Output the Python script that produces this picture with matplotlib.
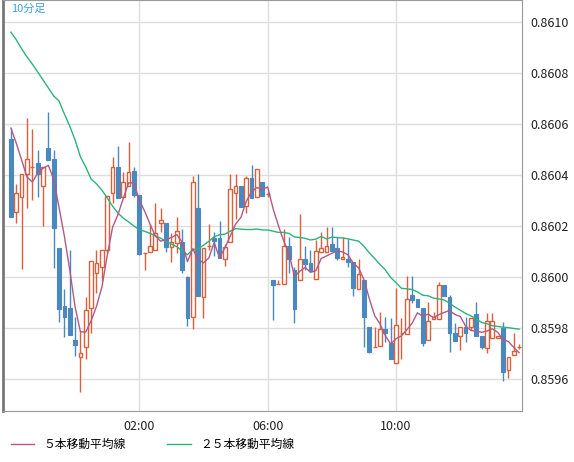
import matplotlib
matplotlib.use("Agg")
import matplotlib.pyplot as plt
from matplotlib.lines import Line2D
import numpy as np
import pandas as pd

plt.rcParams['font.family'] = ['Noto Sans CJK JP', 'DejaVu Sans']

opens = [0.860541,0.860255,0.860314,0.860404,0.860431,0.860447,0.860357,0.860506,0.860463,0.860114,
         0.859886,0.859878,0.859753,0.859686,0.859725,0.859878,0.860016,0.860039,0.860106,0.860329,
         0.860431,0.860314,0.860357,0.860416,0.860322,0.860094,0.860098,0.860106,0.860212,0.860212,
         0.860118,0.860133,0.860137,0.860000,0.859843,0.860271,0.859922,0.860122,0.860153,0.860153,
         0.860071,0.860137,0.860329,0.860357,0.860278,0.860388,0.860314,0.860373,0.860325,0.859988,
         0.859973,0.859973,0.860122,0.860027,0.859988,0.860071,0.860055,0.859992,0.860098,0.860098,
         0.860129,0.860114,0.860071,0.860071,0.860059,0.859953,0.859988,0.859804,0.859725,0.859729,
         0.859796,0.859741,0.859663,0.859780,0.859776,0.859929,0.859914,0.859878,0.859753,0.859835,
         0.859835,0.859969,0.859922,0.859780,0.859769,0.859804,0.859804,0.859855,0.859769,0.859722,
         0.859761,0.859761,0.859800,0.859635,0.859694,0.859725]
highs = [0.860584,0.860365,0.860404,0.860624,0.860580,0.860498,0.860431,0.860647,0.860498,0.860114,
         0.859953,0.860106,0.859843,0.859788,0.859922,0.860063,0.860106,0.860106,0.860318,0.860471,
         0.860514,0.860412,0.860529,0.860431,0.860322,0.860094,0.860208,0.860290,0.860271,0.860212,
         0.860173,0.860235,0.860188,0.860004,0.860396,0.860404,0.860114,0.860208,0.860176,0.860220,
         0.860129,0.860404,0.860404,0.860357,0.860396,0.860439,0.860424,0.860373,0.860333,0.859988,
         0.859988,0.860188,0.860157,0.860039,0.860247,0.860122,0.860106,0.860145,0.860176,0.860196,
         0.860196,0.860157,0.860157,0.860149,0.860059,0.860071,0.859988,0.859804,0.859804,0.859863,
         0.859843,0.859839,0.859957,0.859839,0.860004,0.860004,0.859914,0.859878,0.859902,0.859863,
         0.859980,0.859969,0.859929,0.859820,0.859804,0.859843,0.859839,0.859902,0.859769,0.859859,
         0.859859,0.859769,0.859824,0.859686,0.859780,0.859737]
lows = [0.860235,0.860212,0.860031,0.860271,0.860302,0.860314,0.860200,0.860459,0.860035,0.859824,
        0.859765,0.859773,0.859690,0.859549,0.859678,0.859780,0.859937,0.859984,0.860094,0.860290,
        0.860310,0.860310,0.860357,0.860314,0.860086,0.860027,0.860098,0.860106,0.860176,0.860098,
        0.860059,0.860094,0.860016,0.859808,0.859796,0.859925,0.859839,0.860106,0.860082,0.860075,
        0.860043,0.860137,0.860227,0.860275,0.860251,0.860310,0.860314,0.860318,0.860314,0.859831,
        0.859973,0.859973,0.860016,0.859820,0.859988,0.860027,0.860024,0.859992,0.860098,0.860098,
        0.860102,0.860067,0.860071,0.860039,0.859925,0.859953,0.859725,0.859702,0.859725,0.859729,
        0.859745,0.859678,0.859663,0.859678,0.859776,0.859898,0.859882,0.859729,0.859753,0.859835,
        0.859835,0.859925,0.859706,0.859749,0.859714,0.859745,0.859792,0.859769,0.859718,0.859702,
        0.859761,0.859761,0.859592,0.859604,0.859694,0.859718]
closes = [0.860235,0.860329,0.860404,0.860463,0.860431,0.860404,0.860431,0.860459,0.860192,0.859875,
          0.859843,0.859773,0.859733,0.859702,0.859871,0.860063,0.860055,0.860106,0.860318,0.860431,
          0.860310,0.860373,0.860412,0.860322,0.860090,0.860094,0.860122,0.860173,0.860224,0.860118,
          0.860137,0.860180,0.860027,0.859839,0.860373,0.859925,0.860114,0.860122,0.860141,0.860075,
          0.860118,0.860345,0.860357,0.860275,0.860388,0.860310,0.860424,0.860318,0.860325,0.859969,
          0.859973,0.860122,0.860071,0.859875,0.860071,0.860051,0.860024,0.860102,0.860114,0.860122,
          0.860102,0.860075,0.860078,0.860059,0.859957,0.860012,0.859843,0.859706,0.859725,0.859796,
          0.859780,0.859678,0.859812,0.859780,0.859914,0.859910,0.859882,0.859741,0.859827,0.859843,
          0.859969,0.859925,0.859780,0.859749,0.859804,0.859780,0.859839,0.859769,0.859725,0.859827,
          0.859827,0.859769,0.859627,0.859686,0.859710,0.859725]
# moving-average values visible at the left edge (depend on earlier, unseen candles)
ma5_head = [0.860584,0.860525,0.860459,0.860392]
ma25_head = [0.860960,0.860930,0.860895,0.860863,0.860835,0.860804,0.860773,0.860741,0.860710,0.860690,
             0.860639,0.860592,0.860537,0.860471,0.860431,0.860384,0.860365,0.860341,0.860310,0.860278,
             0.860251,0.860231,0.860216,0.860200]
tick_labels = ["02:00", "06:00", "10:00"]
tick_pos = [24, 48, 72]
yticks = [0.8596, 0.8598, 0.8600, 0.8602, 0.8604, 0.8606, 0.8608, 0.8610]

c = pd.Series(closes)
ma5 = c.rolling(5).mean().values
ma5[:4] = ma5_head
ma25 = c.rolling(25).mean().values
ma25[:24] = ma25_head

RED = "#d9603b"
BLUE = "#4a88c0"
fig = plt.figure(figsize=(5.74, 4.62), dpi=100)
ax = fig.add_axes([0.005, 0.110, 0.904, 0.890])
ax.set_xlim(-1.5, 95.5)
ax.set_ylim(0.859474, 0.861086)
for y in yticks:
    ax.axhline(y, color="#dedede", lw=1, zorder=0)
for x in tick_pos:
    ax.axvline(x, color="#dedede", lw=1, zorder=0)
w = 0.7
for i, (o, h, l, cl) in enumerate(zip(opens, highs, lows, closes)):
    up = cl >= o
    col = RED if up else BLUE
    ax.vlines(i, l, h, color=col, lw=1, zorder=2)
    bot, top = min(o, cl), max(o, cl)
    hgt = max(top - bot, 0.0000015)
    if up:
        ax.add_patch(plt.Rectangle((i - w/2, bot), w, hgt, facecolor="white", edgecolor=col, lw=1, zorder=3))
    else:
        ax.add_patch(plt.Rectangle((i - w/2, bot), w, hgt, facecolor=col, edgecolor=col, lw=0.8, zorder=3))
xs = np.arange(len(closes))
ax.plot(xs, ma25, color="#2db37a", lw=1, zorder=4)
ax.plot(xs, ma5, color="#b05a88", lw=1, zorder=4)

ax.yaxis.tick_right()
ax.set_yticks(yticks)
ax.set_yticklabels([f"{v:.4f}" for v in yticks], fontsize=9, color="#222222")
ax.set_xticks(tick_pos)
ax.set_xticklabels(tick_labels, fontsize=9, color="#222222")
ax.tick_params(length=0, pad=6)
for s in ax.spines.values():
    s.set_color("#999999")
ax.spines['left'].set_color("#777777")
ax.spines['left'].set_linewidth(2)
ax.text(0.015, 0.99, "10分足", transform=ax.transAxes, ha="left", va="top", fontsize=8, color="#3aa0dc")

handles = [Line2D([], [], color="#b05a88", lw=1), Line2D([], [], color="#2db37a", lw=1)]
fig.legend(handles, ["５本移動平均線", "２５本移動平均線"], loc="lower left", bbox_to_anchor=(0.0, 0.0),
           ncol=2, frameon=False, fontsize=8.5, handlelength=2, columnspacing=3.5)
fig.savefig("out.png", dpi=100)
